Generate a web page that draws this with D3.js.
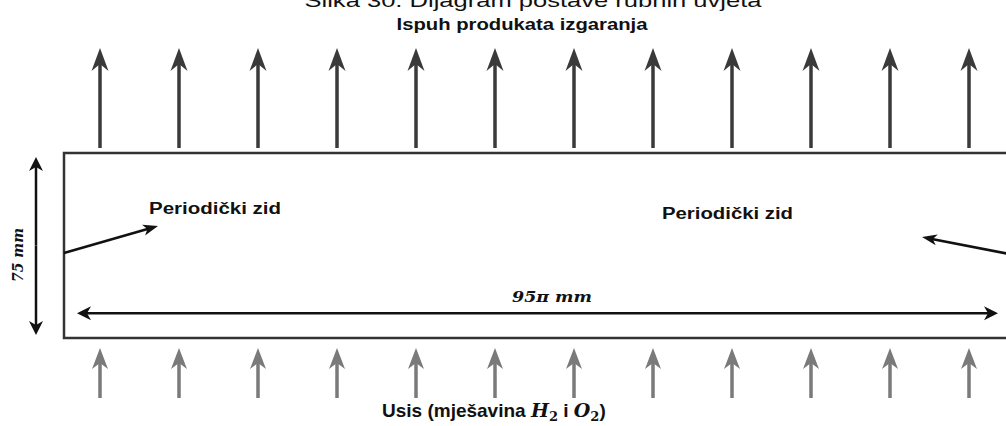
<!DOCTYPE html>
<html>
<head>
<meta charset="utf-8">
<script src="https://cdn.jsdelivr.net/npm/d3@7"></script>
<style>
  body { margin: 0; background: #fff; }
  svg { display: block; }
  .sans { font-family: "Liberation Sans", Arial, sans-serif; font-weight: bold; fill: #111; }
  .math { font-family: "DejaVu Serif", "Liberation Serif", serif; font-weight: bold; fill: #111; }
</style>
</head>
<body>
<div id="chart"></div>
<script>
// domain of the sketch, mm: circumference (95*pi) x height
const domainMm = [95 * Math.PI, 75];
// flow arrows along top (outlet) and bottom (inlet)
const arrowIds = ["1", "2", "3", "4", "5", "6", "7", "8", "9", "10", "11", "12"];
const captionText = "Slika 30. Dijagram postave rubnih uvjeta";
const outletText = "Ispuh produkata izgaranja";
const wallText = ["Periodički zid", "Periodički zid"];
const dimText = ["95π mm", "75 mm"];

const W = 1006, H = 426;
const svg = d3.select("#chart").append("svg")
    .attr("width", W)
    .attr("height", H);

// scales (mm -> px)
const x = d3.scaleLinear().domain([0, domainMm[0]]).range([64, 1012]);
const y = d3.scaleLinear().domain([0, domainMm[1]]).range([338, 153]);
const ax = d3.scalePoint().domain(arrowIds).range([100, 969]);

// line + notched arrow head pointing at (x2,y2)
function arrow(g, x1, y1, x2, y2, o) {
  const ang = Math.atan2(y2 - y1, x2 - x1);
  const L = o.len, Wd = o.wid / 2, notch = o.notch || 0;
  const c = Math.cos(ang), s = Math.sin(ang);
  const pt = (u, v) => [x2 + u * c - v * s, y2 + u * s + v * c];
  g.append("line")
      .attr("x1", x1).attr("y1", y1)
      .attr("x2", pt(-L + notch + 1, 0)[0]).attr("y2", pt(-L + notch + 1, 0)[1])
      .attr("stroke", o.color)
      .attr("stroke-width", o.sw);
  g.append("path")
      .attr("d", d3.line()([pt(0, 0), pt(-L, Wd), pt(-L + notch, 0), pt(-L, -Wd)]) + "Z")
      .attr("fill", o.color);
}

// caption, cut at the top edge (as in the source)
svg.append("text")
    .attr("x", 533).attr("y", 7)
    .attr("text-anchor", "middle")
    .style("font-family", "'Liberation Sans', Arial, sans-serif")
    .style("font-size", "19px")
    .attr("textLength", 457)
    .attr("lengthAdjust", "spacingAndGlyphs")
    .attr("fill", "#111")
    .text(captionText);

svg.append("text")
    .attr("class", "sans")
    .attr("x", 522).attr("y", 30)
    .attr("text-anchor", "middle")
    .style("font-size", "17px")
    .attr("textLength", 251)
    .attr("lengthAdjust", "spacingAndGlyphs")
    .text(outletText);

// outlet arrows
const gTop = svg.append("g");
arrowIds.forEach((id) => {
  arrow(gTop, ax(id), y(domainMm[1]) - 5, ax(id), 48,
      {len: 23, wid: 17, notch: 7, sw: 3.5, color: "#3a3a3a"});
});

// inlet arrows
const gBot = svg.append("g");
arrowIds.forEach((id) => {
  arrow(gBot, ax(id), 398, ax(id), 348,
      {len: 21, wid: 16, notch: 6, sw: 3.5, color: "#7a7a7a"});
});

// domain rectangle
svg.append("rect")
    .attr("x", x(0)).attr("y", y(domainMm[1]))
    .attr("width", x(domainMm[0]) - x(0))
    .attr("height", y(0) - y(domainMm[1]))
    .attr("fill", "none")
    .attr("stroke", "#333")
    .attr("stroke-width", 2.5);

// dimension arrows
const gDim = svg.append("g");
const dimOpt = {len: 14, wid: 14, notch: 4, sw: 2.5, color: "#111"};
const yMid = y(domainMm[1] / 2);
arrow(gDim, 36, yMid, 36, y(domainMm[1]) + 4, dimOpt);
arrow(gDim, 36, yMid, 36, y(0) - 3, dimOpt);
const yDim = y(10);
const xMid = (x(0) + 998) / 2;
arrow(gDim, xMid, yDim, x(0) + 13, yDim, dimOpt);
arrow(gDim, xMid, yDim, 998, yDim, dimOpt);

svg.append("text")
    .attr("class", "math")
    .attr("x", 552).attr("y", 302)
    .attr("text-anchor", "middle")
    .style("font-size", "14px")
    .style("font-style", "italic")
    .attr("textLength", 80)
    .attr("lengthAdjust", "spacingAndGlyphs")
    .text(dimText[0]);

svg.append("text")
    .attr("class", "math")
    .attr("transform", "translate(23,255) rotate(-90)")
    .attr("text-anchor", "middle")
    .style("font-size", "14px")
    .style("font-style", "italic")
    .text(dimText[1]);

// periodic wall pointers
const gWall = svg.append("g");
const wallOpt = {len: 15, wid: 11, notch: 4, sw: 2.5, color: "#111"};
arrow(gWall, x(0), 253, 158, 226, wallOpt);
arrow(gWall, 1040, 260, 922, 237, wallOpt);

svg.append("text")
    .attr("class", "sans")
    .attr("x", 149).attr("y", 214)
    .style("font-size", "16px")
    .attr("textLength", 132)
    .attr("lengthAdjust", "spacingAndGlyphs")
    .text(wallText[0]);

svg.append("text")
    .attr("class", "sans")
    .attr("x", 662).attr("y", 219)
    .style("font-size", "16px")
    .attr("textLength", 131)
    .attr("lengthAdjust", "spacingAndGlyphs")
    .text(wallText[1]);

// inlet label with math parts
const inl = svg.append("text")
    .attr("class", "sans")
    .attr("x", 382).attr("y", 417)
    .style("font-size", "19px");
inl.append("tspan").text("Usis (mješavina ");
inl.append("tspan").attr("class", "math").style("font-style", "italic").text("H");
inl.append("tspan").attr("class", "math").style("font-size", "13px").attr("dy", 4).text("2");
inl.append("tspan").attr("dy", -4).text(" i ");
inl.append("tspan").attr("class", "math").style("font-style", "italic").text("O");
inl.append("tspan").attr("class", "math").style("font-size", "13px").attr("dy", 4).text("2");
inl.append("tspan").attr("dy", -4).text(")");
</script>
</body>
</html>
